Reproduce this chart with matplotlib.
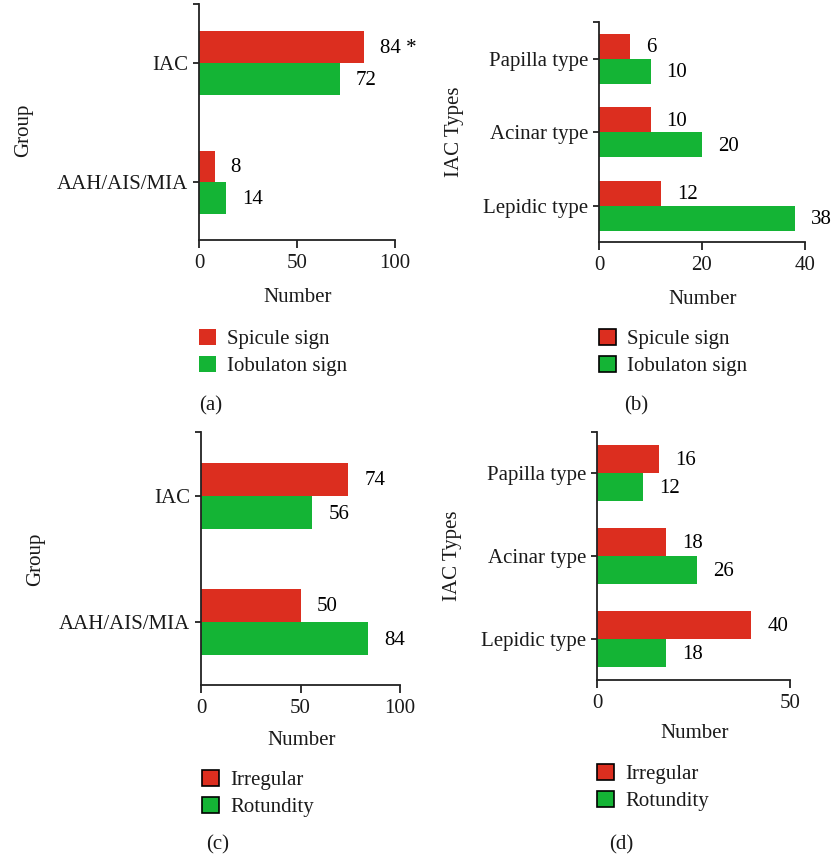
import matplotlib
matplotlib.use("Agg")
import matplotlib.pyplot as plt
import matplotlib.patches as mpatches
import numpy as np

plt.rcParams['font.family'] = ['Liberation Serif', 'DejaVu Serif']
plt.rcParams['font.size'] = 15

RED = '#DC2E1F'
GREEN = '#14B435'

# group comparison (a, c)
group_labels = ['AAH/AIS/MIA', 'IAC']
# IAC subtype comparison (b, d)
type_labels = ['Lepidic type', 'Acinar type', 'Papilla type']

a_spicule = [8, 84]
a_spicule_marks = ['', ' *']
a_lobulation = [14, 72]

b_spicule = [12, 10, 6]
b_lobulation = [38, 20, 10]

c_irregular = [50, 74]
c_rotundity = [84, 56]

d_irregular = [40, 18, 16]
d_rotundity = [18, 26, 12]

W, H = 833, 861
fig = plt.figure(figsize=(W / 100, H / 100), dpi=100)


def px_rect(x0, x1, ytop, ybot):
    return [x0 / W, 1 - ybot / H, (x1 - x0) / W, (ybot - ytop) / H]


def panel(rect, cats, red, green, names, xmax, xticks, ylim, height,
          ylabel, ylabel_xy, xlabel_xy, leg_xy, tag, tag_xy,
          red_marks=None, edged=True):
    ax = fig.add_axes(px_rect(*rect))
    y = np.arange(len(cats))
    ax.barh(y + height / 2, red, height=height, color=RED)
    ax.barh(y - height / 2, green, height=height, color=GREEN)

    marks = red_marks or [''] * len(red)
    for yi, v, m in zip(y, red, marks):
        ax.annotate(f'{v}{m}', (v, yi + height / 2), xytext=(11.5, -1),
                    textcoords='offset points', ha='left', va='center')
    for yi, v in zip(y, green):
        ax.annotate(f'{v}', (v, yi - height / 2), xytext=(11.5, -1),
                    textcoords='offset points', ha='left', va='center')

    ax.set_xlim(0, xmax)
    ax.set_ylim(*ylim)
    ax.set_xticks(xticks)
    ax.set_yticks(list(y) + [ylim[1]])
    ax.set_yticklabels(cats + [''])
    for s in ('top', 'right'):
        ax.spines[s].set_visible(False)
    for s in ('left', 'bottom'):
        ax.spines[s].set_linewidth(1.3)
        ax.spines[s].set_color('#222222')
    ax.tick_params(axis='x', length=6, width=1.3, pad=4, colors='#222222',
                   labelcolor='#1a1a1a')
    ax.tick_params(axis='y', length=4, width=1.3, pad=4, colors='#222222',
                   labelcolor='#1a1a1a')

    fig.text(xlabel_xy[0] / W, 1 - xlabel_xy[1] / H, 'Number',
             ha='center', va='baseline', color='#1a1a1a')
    fig.text(ylabel_xy[0] / W, 1 - ylabel_xy[1] / H, ylabel, rotation=90,
             ha='center', va='center', color='#1a1a1a')
    fig.text(tag_xy[0] / W, 1 - tag_xy[1] / H, tag,
             ha='center', va='baseline', color='#1a1a1a')

    ec = 'black' if edged else 'none'
    handles = [mpatches.Patch(facecolor=RED, edgecolor=ec, linewidth=1.2),
               mpatches.Patch(facecolor=GREEN, edgecolor=ec, linewidth=1.2)]
    ax.legend(handles, names, loc='upper left',
              bbox_to_anchor=(leg_xy[0] / W, 1 - leg_xy[1] / H),
              bbox_transform=fig.transFigure, frameon=False,
              handlelength=0.8, handleheight=0.8, handletextpad=0.55,
              labelspacing=0.32, borderpad=0, borderaxespad=0,
              labelcolor='#1a1a1a')
    return ax


panel((199, 395, 4, 240), group_labels, a_spicule, a_lobulation,
      ['Spicule sign', 'Iobulaton sign'], 100, [0, 50, 100],
      (-0.487, 1.496), 0.265, 'Group', (24, 130), (298, 302),
      (199, 329), '(a)', (211, 410), red_marks=a_spicule_marks, edged=False)

panel((599, 805, 22, 242), type_labels, b_spicule, b_lobulation,
      ['Spicule sign', 'Iobulaton sign'], 40, [0, 20, 40],
      (-0.49, 2.503), 0.34, 'IAC Types', (454, 132), (703, 304),
      (599, 329), '(b)', (636, 410))

panel((201, 400, 432, 685), group_labels, c_irregular, c_rotundity,
      ['Irregular', 'Rotundity'], 100, [0, 50, 100],
      (-0.5, 1.508), 0.265, 'Group', (36, 559), (302, 745),
      (202, 770), '(c)', (218, 849))

panel((597, 790, 432, 680), type_labels, d_irregular, d_rotundity,
      ['Irregular', 'Rotundity'], 50, [0, 50],
      (-0.494, 2.494), 0.337, 'IAC Types', (453, 556), (695, 738),
      (597, 764), '(d)', (621, 849))

fig.savefig('out.png', dpi=100)
